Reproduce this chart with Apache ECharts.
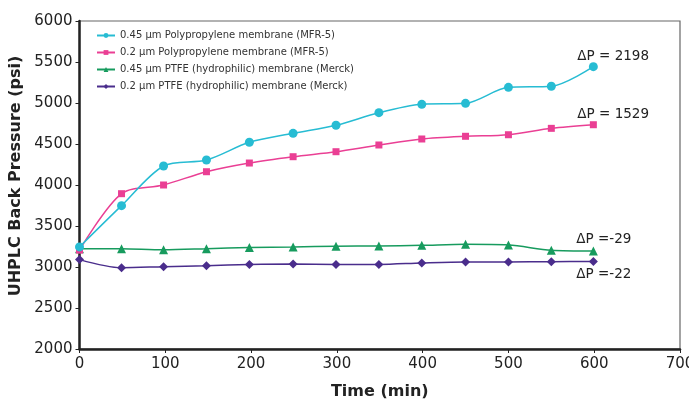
<!DOCTYPE html>
<html>
<head>
<meta charset="utf-8">
<script src="https://cdn.jsdelivr.net/npm/echarts@6/dist/echarts.min.js"></script>
<style>
html,body{margin:0;padding:0;background:#fff;}
#chart{width:689px;height:402px;}
</style>
</head>
<body>
<div id="chart"></div>
<script>
var times = [0, 49, 98, 148, 198, 249, 299, 349, 399, 450, 500, 550, 599];
var pp045 = [3245, 3748, 4232, 4305, 4521, 4630, 4728, 4882, 4984, 4996, 5191, 5204, 5443];
var pp02  = [3206, 3894, 4000, 4162, 4268, 4345, 4406, 4488, 4561, 4594, 4613, 4691, 4735];
var ptfe045 = [3224, 3223, 3210, 3223, 3238, 3244, 3254, 3256, 3264, 3276, 3268, 3204, 3195];
var ptfe02  = [3090, 2991, 3004, 3016, 3030, 3036, 3032, 3032, 3050, 3062, 3062, 3064, 3068];
var seriesNames = [
  '0.45 µm Polypropylene membrane (MFR-5)',
  '0.2 µm Polypropylene membrane (MFR-5)',
  '0.45 µm PTFE (hydrophilic) membrane (Merck)',
  '0.2 µm PTFE (hydrophilic) membrane (Merck)'
];
var deltaLabels = ['ΔP = 2198', 'ΔP = 1529', 'ΔP =-29', 'ΔP =-22'];
var xTitle = 'Time (min)';
var yTitle = 'UHPLC Back Pressure (psi)';

var colors = ['#27bcd3', '#ea3f94', '#179b5e', '#4a2d8c'];
var symbols = ['circle', 'rect', 'triangle', 'diamond'];
var symbolSizes = [9, 7, 9, 9];
var labelOffsets = [[-16, -10], [-16, -10], [-17, -12], [-17, 13]];
var allData = [pp045, pp02, ptfe045, ptfe02];

function pairs(vals) {
  return times.map(function (t, i) { return [t, vals[i]]; });
}

var series = allData.map(function (vals, k) {
  var last = vals.length - 1;
  return {
    name: seriesNames[k],
    type: 'line',
    smooth: 0.3,
    data: pairs(vals),
    symbol: symbols[k],
    symbolSize: symbolSizes[k],
    showAllSymbol: true,
    itemStyle: { color: colors[k] },
    lineStyle: { color: colors[k], width: 1.5 },
    z: 5 - k,
    markPoint: {
      symbol: 'circle',
      symbolSize: 1,
      itemStyle: { color: 'rgba(0,0,0,0)' },
      silent: true,
      data: [{
        coord: [times[last], vals[last]],
        label: {
          show: true,
          position: 'inside',
          formatter: deltaLabels[k],
          align: 'left',
          verticalAlign: 'middle',
          offset: labelOffsets[k],
          color: '#222',
          fontFamily: 'DejaVu Sans',
          fontSize: 13.5
        }
      }]
    }
  };
});

var chart = echarts.init(document.getElementById('chart'), null, { renderer: 'canvas' });
chart.setOption({
  animation: false,
  backgroundColor: '#fff',
  grid: {
    left: 79.5, right: 9, top: 21, bottom: 53,
    outerBoundsMode: 'none', containLabel: false,
    show: true, borderColor: '#666', borderWidth: 1.2, backgroundColor: 'transparent'
  },
  legend: {
    orient: 'vertical',
    left: 91, top: 25.5,
    itemWidth: 18, itemHeight: 6, itemGap: 7,
    textStyle: { fontFamily: 'DejaVu Sans', fontSize: 10, color: '#333' },
    data: seriesNames
  },
  xAxis: {
    type: 'value', min: 0, max: 700, interval: 100,
    name: xTitle, nameLocation: 'middle', nameGap: 35,
    nameTextStyle: { fontFamily: 'DejaVu Sans', fontSize: 16, fontWeight: 'bold', color: '#222' },
    axisLine: { show: true, lineStyle: { color: '#222', width: 2.5 } },
    axisTick: { show: true, length: 4, lineStyle: { color: '#222', width: 1 } },
    axisLabel: { fontFamily: 'DejaVu Sans', fontSize: 15, color: '#222', margin: 8 },
    splitLine: { show: false }
  },
  yAxis: {
    type: 'value', min: 2000, max: 6000, interval: 500,
    name: yTitle, nameLocation: 'middle', nameGap: 47,
    nameTextStyle: { fontFamily: 'DejaVu Sans', fontSize: 16, fontWeight: 'bold', color: '#222', padding: [0, 0, 0, 18] },
    axisLine: { show: true, lineStyle: { color: '#222', width: 2.5 } },
    axisTick: { show: true, length: 4, lineStyle: { color: '#222', width: 1 } },
    axisLabel: { fontFamily: 'DejaVu Sans', fontSize: 15, color: '#222', margin: 7,
      formatter: function (v) { return String(v); } },
    splitLine: { show: false }
  },
  series: series
});
</script>
</body>
</html>
